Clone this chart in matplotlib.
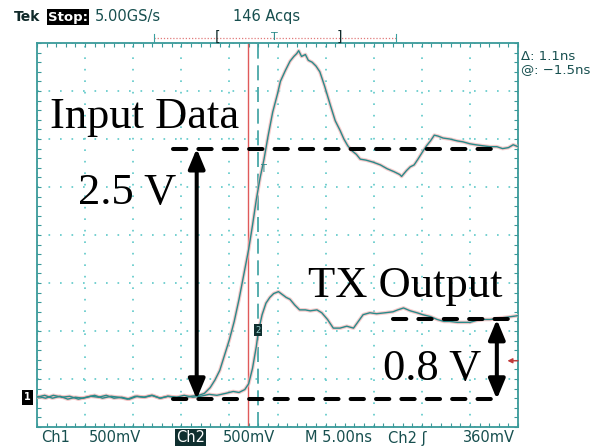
import matplotlib
matplotlib.use("Agg")
import matplotlib.pyplot as plt
import numpy as np
from matplotlib.lines import Line2D

# ---------------- data (time in ns, volts relative to ground) ----------------
ch1_t = [0, 0.8, 1.6, 2.4, 3.2, 4.0, 4.8, 5.6, 6.4, 7.2, 8.0, 8.8, 9.6, 10.4, 11.2,
         12.0, 12.8, 13.6, 14.4, 15.2, 16.0, 16.8, 17.4, 18.0, 18.5, 19.0, 19.5,
         20.0, 20.5, 21.0, 21.5, 22.0, 22.4, 22.8, 23.2, 23.6, 24.0, 24.5, 25.0,
         25.3, 25.8, 26.3, 26.7, 27.0, 27.2, 27.5, 27.9, 28.2, 28.6, 29.0, 29.4,
         29.9, 30.5, 31.0, 31.5, 31.9, 32.3, 32.7, 33.2, 33.6, 34.2, 34.9, 35.7,
         36.4, 37.1, 37.7, 37.9, 38.4, 38.8, 39.2, 39.6, 40.1, 40.5, 40.9, 41.3,
         41.7, 42.2, 42.9, 43.7, 44.3, 45.0, 45.6, 46.3, 47.1, 47.8, 48.4, 49.0,
         49.5, 50.0]
ch1_v = [0.02, 0.04, 0.01, 0.03, 0.00, 0.02, 0.01, 0.03, 0.02, 0.04, 0.01, 0.02,
         0.00, 0.03, 0.02, 0.04, 0.01, 0.03, 0.02, 0.01, 0.03, 0.04, 0.06, 0.12,
         0.20, 0.30, 0.46, 0.62, 0.81, 1.04, 1.30, 1.56, 1.81, 2.08, 2.31, 2.50,
         2.73, 2.99, 3.18, 3.31, 3.42, 3.52, 3.57, 3.60, 3.63, 3.57, 3.59, 3.53,
         3.51, 3.47, 3.41, 3.26, 3.06, 2.90, 2.80, 2.71, 2.64, 2.59, 2.55, 2.50,
         2.49, 2.47, 2.44, 2.40, 2.37, 2.34, 2.32, 2.38, 2.42, 2.44, 2.50, 2.58,
         2.64, 2.69, 2.75, 2.74, 2.72, 2.71, 2.69, 2.68, 2.66, 2.65, 2.64, 2.63,
         2.63, 2.61, 2.62, 2.65, 2.63]

ch2_t = [0, 0.9, 1.7, 2.6, 3.4, 4.3, 5.1, 6.0, 6.8, 7.7, 8.5, 9.4, 10.2, 11.1,
         11.9, 12.8, 13.6, 14.5, 15.3, 16.2, 17.0, 17.9, 18.7, 19.6, 20.4, 21.0,
         21.6, 22.0, 22.4, 22.8, 23.0, 23.4, 23.8, 24.2, 24.6, 25.1, 25.5, 25.9,
         26.3, 26.8, 27.3, 27.9, 28.4, 29.1, 29.6, 30.2, 30.8, 31.5, 32.2, 32.9,
         33.4, 33.9, 34.6, 35.3, 36.2, 37.0, 37.5, 38.1, 38.8, 39.5, 40.1, 40.9,
         41.6, 42.3, 42.9, 43.7, 44.4, 45.0, 45.7, 46.5, 47.1, 47.8, 48.5, 49.3,
         50.0]
ch2_v = [0.03, 0.01, 0.04, 0.02, 0.03, 0.00, 0.02, 0.04, 0.01, 0.03, 0.02, 0.00,
         0.03, 0.02, 0.04, 0.01, 0.03, 0.02, 0.04, 0.02, 0.03, 0.05, 0.04, 0.06,
         0.08, 0.07, 0.10, 0.16, 0.32, 0.55, 0.70, 0.88, 1.00, 1.06, 1.10, 1.12,
         1.09, 1.06, 1.04, 0.98, 0.93, 0.93, 0.92, 0.93, 0.90, 0.83, 0.74, 0.74,
         0.76, 0.74, 0.81, 0.88, 0.90, 0.89, 0.90, 0.91, 0.93, 0.95, 0.92, 0.90,
         0.88, 0.86, 0.83, 0.81, 0.81, 0.80, 0.80, 0.80, 0.82, 0.83, 0.83, 0.84,
         0.85, 0.86, 0.87]

# annotation levels
ground_level = 0.0
input_high = 2.61
tx_high = 0.83
ground_span = (14.1, 48.1)
input_span = (14.1, 48.1)
tx_span = (37.0, 50.0)
input_arrow_t = 16.6
tx_arrow_t = 47.8
input_label = "2.5 V"
tx_label = "0.8 V"
cursor_a = 21.9
cursor_b = 23.0

# scope settings (5 ns/div, 500 mV/div, 10 x 8 divisions)
ns_per_div = 5.0
v_per_div = 0.5
x_range = (0.0, 50.0)
y_range = (-0.29, 3.71)

TEAL = "#2a8a8a"
HALO = "#f2b4b4"
TXT = "#174f4f"

fig = plt.figure(figsize=(6.1, 4.46), dpi=100)
fig.patch.set_facecolor("white")
ax = fig.add_axes([37 / 610, 19 / 446, 481 / 610, 384 / 446])
ax.set_xlim(*x_range)
ax.set_ylim(*y_range)

# graticule
ax.set_xticks(np.arange(x_range[0], x_range[1] + 0.01, ns_per_div))
ax.set_xticks(np.arange(x_range[0], x_range[1] + 0.01, ns_per_div / 5), minor=True)
ax.set_yticks(np.arange(y_range[0], y_range[1] + 0.001, v_per_div))
ax.set_yticks(np.arange(y_range[0], y_range[1] + 0.001, v_per_div / 5), minor=True)
ax.tick_params(which="both", direction="in", length=3, width=0.8, color="#3a9a9a",
               top=True, right=True, bottom=True, left=True,
               labelbottom=False, labelleft=False)
ax.grid(True, which="major", color="#5cc8c8", linestyle=(0, (1.0, 5.9)), linewidth=1.2)
for s in ax.spines.values():
    s.set_color("#3a9a9a")
    s.set_linewidth(1.3)

# cursors
ax.axvline(cursor_a, color="#e05a5a", lw=1.0, zorder=2)
ax.axvline(cursor_b, color="#3aa0a0", lw=1.2, ls=(0, (9, 4)), zorder=2)

# traces
for t, v in ((ch1_t, ch1_v), (ch2_t, ch2_v)):
    ax.plot(t, v, color=HALO, lw=2.6, alpha=0.7, zorder=3, solid_joinstyle="round")
    ax.plot(t, v, color=TEAL, lw=1.0, zorder=4, solid_joinstyle="round")

# markers on traces
ax.text(23.5, 2.4, "T", color=TEAL, fontsize=7, ha="center", va="center", zorder=5)
ax.text(23.0, 0.72, "2", color="#9ad0d0", fontsize=6, ha="center", va="center", zorder=5,
        bbox=dict(boxstyle="square,pad=0.15", fc="#0f2f2f", ec="none"))
ax.text(-1.0, 0.02, "1", color="white", fontsize=7, ha="center", va="center",
        fontweight="bold", clip_on=False,
        bbox=dict(boxstyle="square,pad=0.25", fc="black", ec="none"))
ax.annotate("", xy=(48.9, 0.40), xytext=(50.0, 0.40),
            arrowprops=dict(arrowstyle="-|>", color="#c03a3a", lw=1.0,
                            mutation_scale=7, shrinkA=0, shrinkB=0),
            annotation_clip=False)

# dashed level lines
dash_kw = dict(color="black", lw=2.9, ls=(0, (3.3, 3.0)), dash_capstyle="round", zorder=6)
ax.plot(ground_span, [ground_level, ground_level], **dash_kw)
ax.plot(input_span, [input_high, input_high], **dash_kw)
ax.plot(tx_span, [tx_high, tx_high], **dash_kw)

arrow_kw = dict(arrowstyle="<|-|>,head_length=0.6,head_width=0.25", color="black",
                lw=2.9, mutation_scale=20, shrinkA=0, shrinkB=0)
ax.annotate("", xy=(input_arrow_t, input_high), xytext=(input_arrow_t, ground_level),
            arrowprops=arrow_kw, zorder=7)
ax.annotate("", xy=(tx_arrow_t, tx_high), xytext=(tx_arrow_t, ground_level),
            arrowprops=arrow_kw, zorder=7)

serif = dict(family="Liberation Serif", fontsize=32, color="black", zorder=8)
ax.text(1.35, 2.82, "Input Data", va="baseline", ha="left", **serif)
ax.text(4.26, 2.03, input_label, va="baseline", ha="left", **serif)
ax.text(28.2, 1.06, "TX Output", va="baseline", ha="left", **serif)
ax.text(36.0, 0.20, tx_label, va="baseline", ha="left", **serif)

# ---------------- scope header / footer text ----------------
def px(x, y):
    return x / 610, 1 - y / 446

mono = dict(family="DejaVu Sans", fontsize=10.5, color=TXT, va="center")
fig.text(*px(14, 17), "Tek", fontweight="bold", **{**mono, "color": "#102a2a", "fontsize": 10})
fig.text(*px(48, 17), "Stop:", fontweight="bold", **{**mono, "color": "white", "fontsize": 9.5},
         bbox=dict(boxstyle="square,pad=0.1", fc="black", ec="none"))
fig.text(*px(95, 17), "5.00GS/s", **mono)
fig.text(*px(233, 17), "146 Acqs", **mono)

# record ruler
fig.add_artist(Line2D([154 / 610, 396 / 610], [1 - 38 / 446] * 2, color="#e07a7a",
                      lw=0.9, ls=(0, (1, 1.5))))
for xx in (154, 396):
    fig.add_artist(Line2D([xx / 610] * 2, [1 - 34 / 446, 1 - 42 / 446], color="#3aa0a0", lw=0.8))
fig.text(*px(217, 37), "[", ha="center", **{**mono, "color": "#102a2a", "fontsize": 10})
fig.text(*px(339, 37), "]", ha="center", **{**mono, "color": "#102a2a", "fontsize": 10})
fig.text(*px(274, 37), "T", ha="center", **{**mono, "color": TEAL, "fontsize": 8})

# right cursor readout
small = dict(family="DejaVu Sans", fontsize=9.5, color=TXT, va="center")
fig.text(*px(521, 56), "\u0394: 1.1ns", **small)
fig.text(*px(521, 70), "@: \u22121.5ns", **small)

# footer
fig.text(*px(41, 438), "Ch1", **mono)
fig.text(*px(89, 438), "500mV", **mono)
fig.text(*px(176, 438), "Ch2", **{**mono, "color": "white"},
         bbox=dict(boxstyle="square,pad=0.08", fc="#0f2f2f", ec="none"))
fig.text(*px(223, 438), "500mV", **mono)
fig.text(*px(305, 438), "M 5.00ns", **mono)
fig.text(*px(388, 438), "Ch2 \u0283", **mono)
fig.text(*px(463, 438), "360mV", **mono)

fig.savefig("out.png", dpi=100, facecolor="white")
